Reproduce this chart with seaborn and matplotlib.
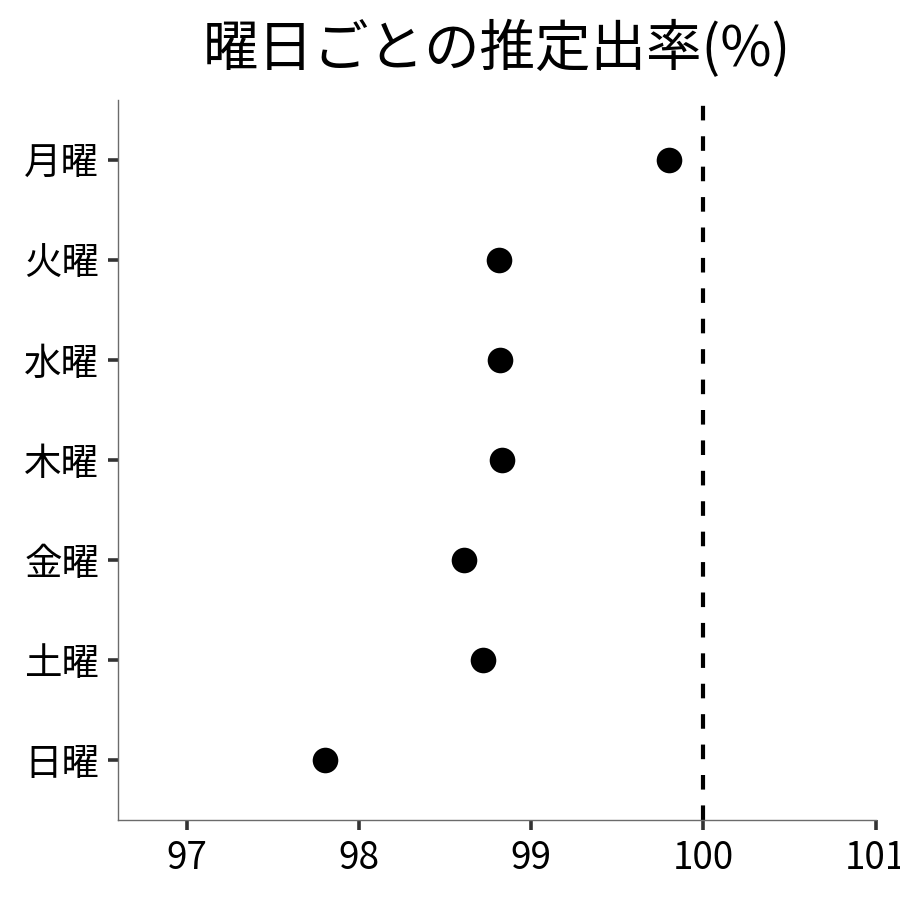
import matplotlib
matplotlib.use("Agg")
import matplotlib.pyplot as plt
import seaborn as sns
import pandas as pd

days = ["月曜", "火曜", "水曜", "木曜", "金曜", "土曜", "日曜"]
rates = [99.80, 98.81, 98.82, 98.83, 98.61, 98.72, 97.80]
x_ticks = [97, 98, 99, 100, 101]
ref_value = 100
title = "曜日ごとの推定出率(%)"

df = pd.DataFrame({"day": days, "rate": rates})

sns.set_theme(style="white")
plt.rcParams["font.family"] = ["Noto Sans CJK JP", "DejaVu Sans"]

fig = plt.figure(figsize=(9, 9), dpi=100)
ax = fig.add_axes([0.131, 0.089, 0.842, 0.8])

sns.scatterplot(data=df, x="rate", y="day", color="black", s=340,
                edgecolor="black", linewidth=0, ax=ax, zorder=3)
ax.axvline(ref_value, color="black", linestyle=(0, (3.5, 3.8)), linewidth=3.0, zorder=2)

ax.set_xlim(96.6, 101)
ax.set_ylim(len(days) - 0.4, -0.6)
ax.set_xticks(x_ticks)
ax.set_xticklabels([str(t) for t in x_ticks])
ax.set_xlabel("")
ax.set_ylabel("")
ax.set_title(title, fontsize=40, pad=24, color="black")

for s in ["top", "right"]:
    ax.spines[s].set_visible(False)
for s in ["left", "bottom"]:
    ax.spines[s].set_color("#6b6b6b")
    ax.spines[s].set_linewidth(1.0)

ax.tick_params(axis="both", which="major", length=7.5, width=2.6, color="#333333",
               labelsize=26.5, labelcolor="black", pad=6, left=True, bottom=True)
ax.tick_params(axis="y", labelsize=27, pad=6)

fig.savefig("out.png", dpi=100)
